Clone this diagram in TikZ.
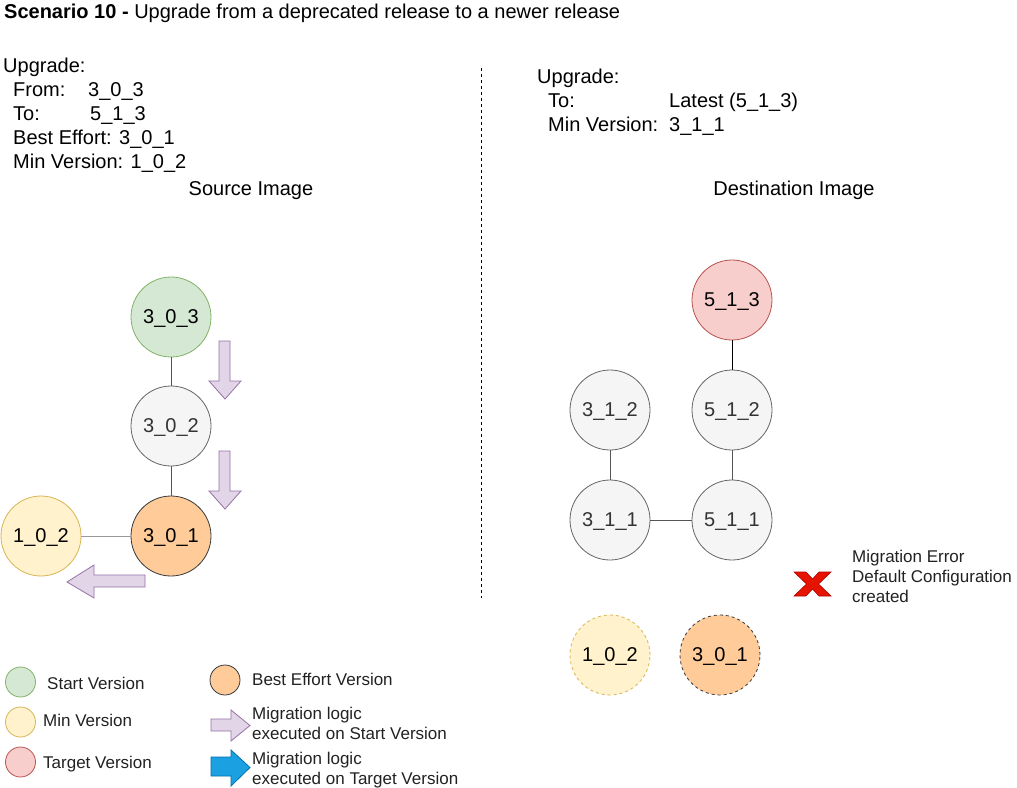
\documentclass[tikz,border=0pt]{standalone}
\usepackage{fontspec}
\setmainfont{Liberation Sans}
\begin{document}
\begin{tikzpicture}[x=1pt,y=-1pt,
  ver/.style={circle,minimum size=80pt,inner sep=0pt,text depth=0pt,font=\fontsize{20}{24}\selectfont,line width=0.8pt},
  grey/.style={ver,fill=greyF,draw=greyD,text=txtG},
  lg/.style={circle,minimum size=30pt,inner sep=0pt,line width=0.8pt},
  big/.style={font=\fontsize{20}{24}\selectfont,inner sep=0pt},
  sm/.style={font=\fontsize{17}{20}\selectfont,inner sep=0pt,text=txtL},
  edge/.style={draw=edgeC,line width=0.8pt},
  purp/.style={fill=purF,draw=purD,line width=0.8pt},
]
\definecolor{greenF}{HTML}{D5E8D4}\definecolor{greenD}{HTML}{82B366}
\definecolor{greyF}{HTML}{F5F5F5}\definecolor{greyD}{HTML}{666666}
\definecolor{orF}{HTML}{FFCC99}\definecolor{orD}{HTML}{36393D}
\definecolor{yeF}{HTML}{FFF2CC}\definecolor{yeD}{HTML}{D6B656}
\definecolor{reF}{HTML}{F8CECC}\definecolor{reD}{HTML}{B85450}
\definecolor{purF}{HTML}{E1D5E7}\definecolor{purD}{HTML}{9673A6}
\definecolor{blF}{HTML}{1BA1E2}\definecolor{blD}{HTML}{006EAF}
\definecolor{xF}{HTML}{E51400}\definecolor{xD}{HTML}{B20000}
\definecolor{edgeC}{HTML}{555555}\definecolor{txtG}{HTML}{333333}
\definecolor{txtL}{HTML}{222222}
\path[use as bounding box,fill=white] (0,0) rectangle (1017,787);

% title
\node[anchor=base west,inner sep=0pt,font=\fontsize{20}{24}\selectfont] (title) at (4,19) {\textbf{Scenario 10 -} Upgrade from a deprecated release to a newer release};

% left info text
\node[big,anchor=base west] (lu) at (3,72) {Upgrade:};
\node[big,anchor=base west] (lf) at (13,96) {From:};
\node[big,anchor=base west] (lfv) at (88,96) {3\_0\_3};
\node[big,anchor=base west] (lt) at (13,120) {To:};
\node[big,anchor=base west] (ltv) at (90,120) {5\_1\_3};
\node[big,anchor=base west] (lb) at (13,144) {Best Effort: 3\_0\_1};
\node[big,anchor=base west] (lm) at (13,168) {Min Version: 1\_0\_2};
\node[big,anchor=base] (src) at (251,195) {Source Image};

% right info text
\node[big,anchor=base west] (ru) at (537,83) {Upgrade:};
\node[big,anchor=base west] (rt) at (548,107) {To:};
\node[big,anchor=base west] (rtv) at (669,107) {Latest (5\_1\_3)};
\node[big,anchor=base west] (rm) at (548,131) {Min Version:};
\node[big,anchor=base west] (rmv) at (669,131) {3\_1\_1};
\node[big,anchor=base] (dst) at (794,195) {Destination Image};

% divider
\coordinate (d1) at (481,68); \coordinate (d2) at (481,598);
\draw[line width=0.7pt,dash pattern=on 3pt off 3pt] (d1) -- (d2);

% left graph
\node[ver,fill=greenF,draw=greenD] (a303) at (171,317) {3\_0\_3};
\node[grey] (a302) at (171,426) {3\_0\_2};
\node[ver,fill=orF,draw=orD] (a301) at (171,536) {3\_0\_1};
\node[ver,fill=yeF,draw=yeD] (a102) at (41,536) {1\_0\_2};
\draw[edge] (a303) -- (a302);
\draw[edge] (a302) -- (a301);
\draw[draw=black!40,line width=1pt] (a102) -- (a301);

% purple arrows
\draw[purp] (219,341) -- (230,341) -- (230,381) -- (241,381) -- (225,399) -- (209,381) -- (219,381) -- cycle;
\draw[purp] (219,451) -- (230,451) -- (230,491) -- (241,491) -- (225,509) -- (209,491) -- (219,491) -- cycle;
\draw[purp] (145,575) -- (145,587) -- (94,587) -- (94,598) -- (67,582) -- (94,565) -- (94,575) -- cycle;

% right graph
\node[ver,fill=reF,draw=reD] (b513) at (732,300) {5\_1\_3};
\node[grey] (b512) at (732,410) {5\_1\_2};
\node[grey] (b312) at (610,410) {3\_1\_2};
\node[grey] (b311) at (610,520) {3\_1\_1};
\node[grey] (b511) at (732,520) {5\_1\_1};
\node[ver,fill=yeF,draw=yeD,dashed] (c102) at (610,655) {1\_0\_2};
\node[ver,fill=orF,draw=orD,dashed] (c301) at (720,655) {3\_0\_1};
\draw[draw=black,line width=0.8pt] (b513) -- (b512);
\draw[edge] (b512) -- (b511);
\draw[edge] (b312) -- (b311);
\draw[edge] (b311) -- (b511);

% red X
\draw[fill=xF,draw=xD,line width=0.6pt] (794,572) -- (806,572) -- (812.5,579) -- (819,572) -- (831,572) -- (818.5,584) -- (831,596) -- (819,596) -- (812.5,589) -- (806,596) -- (794,596) -- (806.5,584) -- cycle;
\node[sm,anchor=north west,align=left] (err) at (852,550) {Migration Error\\Default Configuration\\created};

% legend
\node[lg,fill=greenF,draw=greenD] (lg1) at (20.5,682) {};
\node[sm,anchor=base west] (lt1) at (47,689) {Start Version};
\node[lg,fill=yeF,draw=yeD] (lg2) at (20.5,722) {};
\node[sm,anchor=base west] (lt2) at (43,726) {Min Version};
\node[lg,fill=reF,draw=reD] (lg3) at (20.5,762) {};
\node[sm,anchor=base west] (lt3) at (43,768) {Target Version};
\node[lg,fill=orF,draw=orD] (lg4) at (225,680) {};
\node[sm,anchor=base west] (lt4) at (252,685) {Best Effort Version};
\draw[purp] (211,719) -- (231,719) -- (231,710) -- (250,725.5) -- (231,741) -- (231,731) -- (211,731) -- cycle;
\node[sm,anchor=north west,align=left] (lt5) at (252,707) {Migration logic\\executed on Start Version};
\draw[fill=blF,draw=blD,line width=0.8pt] (211,757) -- (231,757) -- (231,750) -- (250,767.5) -- (231,786) -- (231,776) -- (211,776) -- cycle;
\node[sm,anchor=north west,align=left] (lt6) at (252,752) {Migration logic\\executed on Target Version};
\end{tikzpicture}
\end{document}
